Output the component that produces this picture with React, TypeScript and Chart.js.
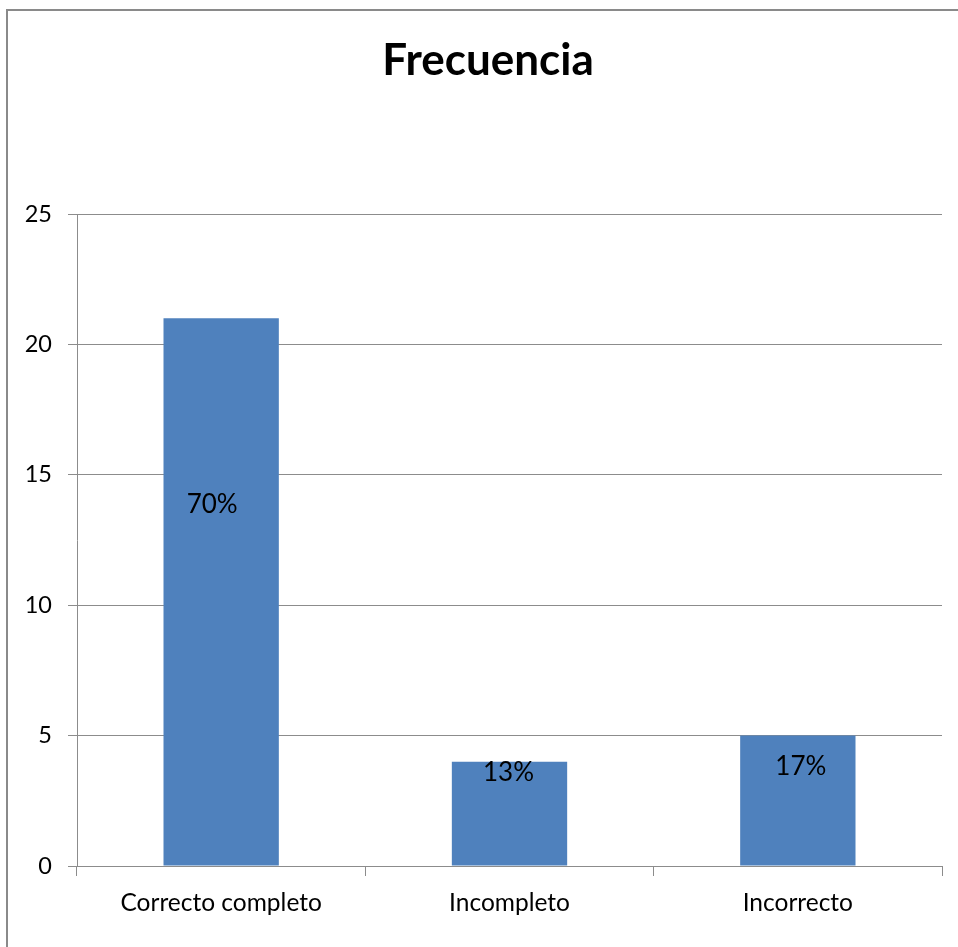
import React, { useEffect, useRef } from "react";
import { Chart, registerables } from "chart.js";

Chart.register(...registerables);

const categories = ["Correcto completo", "Incompleto", "Incorrecto"];
const frecuencia = [21, 4, 5];
const percentLabels = ["70%", "13%", "17%"];
const yTicks = [0, 5, 10, 15, 20, 25];
const titleText = "Frecuencia";

// where each percentage label sits, in value units of the y axis
const labelAnchors = [13.87, 3.57, 3.8];
const labelShiftX = [-9, -1, 3];

const FONT = "Lato, 'Open Sans', sans-serif";
const GRID = "#8c8c8c";

const labelsPlugin = {
  id: "pctLabels",
  afterDatasetsDraw(chart: any) {
    const ctx = chart.ctx;
    const meta = chart.getDatasetMeta(0);
    const y = chart.scales.y;
    ctx.save();
    ctx.font = `26px ${FONT}`;
    ctx.fillStyle = "#000";
    ctx.textAlign = "center";
    ctx.textBaseline = "middle";
    meta.data.forEach((bar: any, i: number) => {
      ctx.fillText(percentLabels[i], bar.x + labelShiftX[i], y.getPixelForValue(labelAnchors[i]));
    });
    ctx.restore();
  },
};

const titlePlugin = {
  id: "frameTitle",
  afterDraw(chart: any) {
    const ctx = chart.ctx;
    ctx.save();
    ctx.font = `bold 44px ${FONT}`;
    ctx.fillStyle = "#000";
    ctx.textAlign = "center";
    ctx.textBaseline = "middle";
    ctx.fillText(titleText, 488, 61);
    ctx.restore();
  },
};

export default function App() {
  const ref = useRef<HTMLCanvasElement | null>(null);

  useEffect(() => {
    if (!ref.current) return;
    const chart = new Chart(ref.current, {
      type: "bar",
      data: {
        labels: categories,
        datasets: [
          {
            label: titleText,
            data: frecuencia,
            backgroundColor: "#4F81BD",
            borderWidth: 0,
            barPercentage: 0.4,
            categoryPercentage: 1,
          },
        ],
      },
      options: {
        responsive: false,
        animation: false,
        devicePixelRatio: 1,
        layout: { padding: { left: 0, top: 214, right: 16, bottom: 0 } },
        plugins: {
          legend: { display: false },
          title: { display: false },
          tooltip: { enabled: false },
        },
        scales: {
          x: {
            offset: true,
            grid: {
              offset: true,
              drawOnChartArea: false,
              drawTicks: true,
              tickLength: 10,
              color: GRID,
              lineWidth: 1,
            },
            border: { display: true, color: GRID, width: 1 },
            ticks: {
              color: "#000",
              font: { family: FONT, size: 24.5 },
              padding: 12,
              maxRotation: 0,
              autoSkip: false,
            },
            afterFit(scale: any) {
              scale.height = 947 - 866;
            },
          },
          y: {
            min: 0,
            max: 25,
            afterBuildTicks(scale: any) {
              scale.ticks = yTicks.map((v) => ({ value: v }));
            },
            grid: {
              color: GRID,
              lineWidth: 1,
              drawTicks: true,
              tickLength: 9,
            },
            border: { display: true, color: GRID, width: 1 },
            ticks: {
              color: "#000",
              font: { family: FONT, size: 23.5 },
              padding: 16,
            },
            afterFit(scale: any) {
              scale.width = 77;
            },
          },
        },
      },
      plugins: [labelsPlugin, titlePlugin],
    });
    return () => chart.destroy();
  }, []);

  return (
    <div>
      <canvas
        ref={ref}
        width={958}
        height={947}
        style={{ position: "fixed", left: 0, top: 0, width: 958, height: 947, display: "block" }}
      />
      <div
        style={{
          position: "fixed",
          left: 6,
          top: 9,
          width: 980,
          height: 980,
          borderLeft: "2px solid #8a8a8a",
          borderTop: "2px solid #8a8a8a",
          pointerEvents: "none",
        }}
      />
    </div>
  );
}
